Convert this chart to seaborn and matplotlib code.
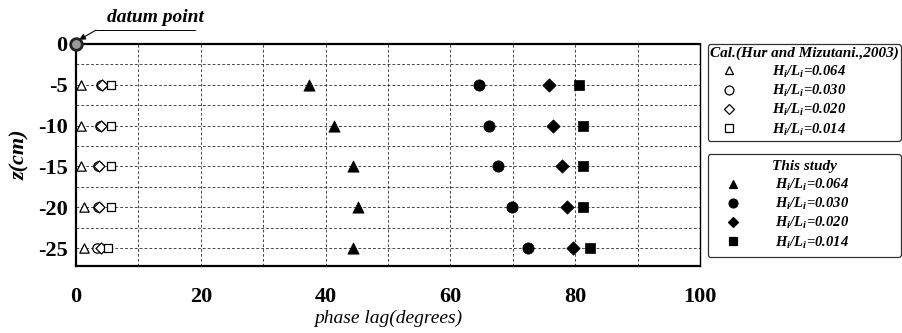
import numpy as np
import pandas as pd
import matplotlib
matplotlib.use("Agg")
import matplotlib.pyplot as plt
from matplotlib.lines import Line2D
import seaborn as sns

sns.set_theme(style="white")
plt.rcParams['font.family'] = ['Liberation Serif', 'DejaVu Serif']
plt.rcParams['mathtext.default'] = 'regular'
plt.rcParams['axes.unicode_minus'] = False
plt.rcParams['text.color'] = 'black'
plt.rcParams['axes.labelcolor'] = 'black'
plt.rcParams['xtick.color'] = 'black'
plt.rcParams['ytick.color'] = 'black'

depth = [-5, -10, -15, -20, -25]
ratios = ["0.064", "0.030", "0.020", "0.014"]

# Cal. (Hur and Mizutani, 2003)
cal_064 = [0.8, 0.8, 0.8, 1.3, 1.3]
cal_030 = [4.0, 3.8, 3.5, 3.5, 3.3]
cal_020 = [4.1, 4.0, 3.6, 3.6, 4.0]
cal_014 = [5.6, 5.6, 5.6, 5.6, 5.2]

# This study
obs_064 = [37.3, 41.3, 44.4, 45.2, 44.4]
obs_030 = [64.6, 66.2, 67.6, 69.9, 72.4]
obs_020 = [75.8, 76.4, 77.9, 78.7, 79.7]
obs_014 = [80.6, 81.3, 81.2, 81.2, 82.4]

markers = ["^", "o", "D", "s"]
msizes = [60, 60, 42, 48]

fig = plt.figure(figsize=(9.02, 3.33), dpi=100)
ax = fig.add_axes([0.0843, 0.201, 0.6918, 0.667])

cal_all = [cal_064, cal_030, cal_020, cal_014]
obs_all = [obs_064, obs_030, obs_020, obs_014]

for vals, m, s in zip(cal_all, markers, msizes):
    df = pd.DataFrame({"x": vals, "z": depth})
    sns.scatterplot(data=df, x="x", y="z", marker=m, s=s * 0.75, facecolor="white",
                    edgecolor="black", linewidth=0.9, ax=ax, zorder=3, clip_on=False)
for vals, m, s in zip(obs_all, markers, msizes):
    df = pd.DataFrame({"x": vals, "z": depth})
    sns.scatterplot(data=df, x="x", y="z", marker=m, s=s * 1.1, color="black",
                    edgecolor="black", linewidth=0.5, ax=ax, zorder=3)

# datum point
ax.scatter([0], [0], s=70, facecolor="#9a9a9a", edgecolor="#222222", linewidth=2,
           zorder=5, clip_on=False)
ax.text(12.7, 3.3, "datum point", fontsize=14, fontweight="bold", fontstyle="italic",
        ha="center", va="center", clip_on=False)
ax.plot([3.2, 19.0], [1.7, 1.7], color="black", lw=0.7, clip_on=False)
ax.annotate("", xy=(0.5, 0.5), xytext=(3.2, 1.7), textcoords="data",
            annotation_clip=False,
            arrowprops=dict(arrowstyle="-|>", color="black", lw=0.8,
                            shrinkA=0, shrinkB=0, mutation_scale=9))

ax.set_xlim(0, 100)
ax.set_ylim(-27.2, 0)
ax.set_xticks([0, 20, 40, 60, 80, 100])
ax.set_yticks([0, -5, -10, -15, -20, -25])
ax.set_xticks(np.arange(0, 101, 10), minor=True)
ax.set_yticks(np.arange(0, -27.5, -2.5), minor=True)
ax.grid(which="both", color="black", linestyle=(0, (4, 3)), linewidth=0.5)
ax.tick_params(axis="both", which="both", length=0, labelsize=16)
ax.tick_params(axis="x", pad=15)
ax.tick_params(axis="y", pad=6)
for lab in ax.get_xticklabels() + ax.get_yticklabels():
    lab.set_fontweight("bold")
ax.set_xlabel("phase lag(degrees)", fontsize=14, fontstyle="italic", labelpad=2)
ax.set_ylabel("z(cm)", fontsize=16, fontstyle="italic", fontweight="bold", labelpad=6)
for side, sp in ax.spines.items():
    sp.set_color("black")
    sp.set_linewidth(1.6 if side in ("left", "top", "bottom") else 1.0)

def handles(filled):
    hs = []
    for m, s in zip(markers, [7, 7.5, 6, 6.5]):
        hs.append(Line2D([], [], linestyle="none", marker=m, markersize=s * 0.85,
                         markerfacecolor="black" if filled else "white",
                         markeredgecolor="black", markeredgewidth=0.9))
    return hs

labels = ["H$_i$/L$_i$=" + r for r in ratios]
prop = dict(family="Liberation Serif", style="italic", weight="bold", size=10.5)
tprop = dict(family="Liberation Serif", style="italic", weight="bold", size=11)

common = dict(loc="upper left", prop=prop, frameon=True, fancybox=True,
              edgecolor="black", handletextpad=1.6, labelspacing=0.22,
              handlelength=2.6, borderaxespad=0, mode="expand")

leg1 = ax.legend(handles(False), labels, title="Cal.(Hur and Mizutani.,2003)",
                 bbox_to_anchor=(1.012, 1.0, 0.31, 0), borderpad=0.2, **common)
leg1.get_title().set_fontproperties(tprop)
leg1.get_frame().set_linewidth(0.9)
ax.add_artist(leg1)

leg2 = ax.legend(handles(True), labels, title="This study",
                 bbox_to_anchor=(1.012, 0.505, 0.31, 0), borderpad=0.45, **common)
leg2.get_title().set_fontproperties(tprop)
leg2.get_frame().set_linewidth(0.9)

fig.savefig("out.png", dpi=100)
